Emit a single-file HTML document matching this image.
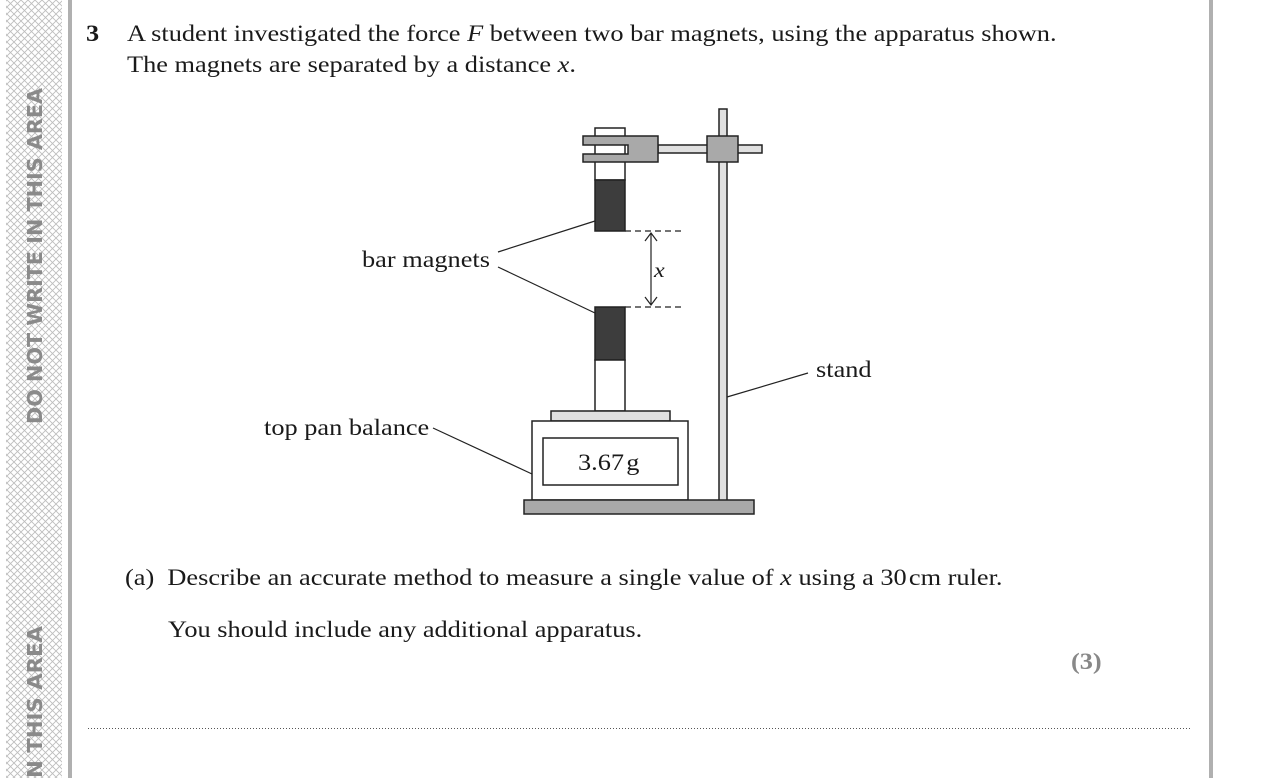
<!DOCTYPE html>
<html><head><meta charset="utf-8"><style>
html,body{margin:0;padding:0;background:#fff;width:1280px;height:778px;overflow:hidden}
.t{position:absolute;font-family:"Liberation Serif",serif;font-size:23px;color:#1a1a1a;white-space:nowrap;transform:scaleX(1.145);transform-origin:0 0}
</style></head><body>
<svg width="1280" height="778" style="position:absolute;left:0;top:0" xmlns="http://www.w3.org/2000/svg">
<defs><pattern id="h" width="7" height="7" patternUnits="userSpaceOnUse">
<path d="M0 0L7 7M7 0L0 7" stroke="#bdbdbd" stroke-width="0.9"/></pattern></defs>
<rect x="6" y="0" width="56" height="778" fill="url(#h)"/>
<rect x="68" y="0" width="4" height="778" fill="#b0b0b0"/>
<rect x="1209" y="0" width="4" height="778" fill="#b0b0b0"/>
<text transform="translate(42,424) rotate(-90)" font-family="DejaVu Sans,sans-serif" font-weight="bold" font-size="20" fill="#8a8a8a" textLength="336" lengthAdjust="spacingAndGlyphs">DO NOT WRITE IN THIS AREA</text>
<text transform="translate(42,778) rotate(-90)" font-family="DejaVu Sans,sans-serif" font-weight="bold" font-size="20" fill="#8a8a8a" textLength="152" lengthAdjust="spacingAndGlyphs">N THIS AREA</text>
<line x1="88" y1="728.5" x2="1190" y2="728.5" stroke="#555" stroke-width="1" stroke-dasharray="1,2"/>
<g stroke="#222" stroke-width="1.5">
<rect x="719" y="109" width="8" height="392" fill="#e0e0e0"/>
<rect x="595" y="128" width="30" height="52" fill="#fff"/>
<rect x="658" y="145" width="104" height="8" fill="#e0e0e0"/>
<path d="M583 136H658V162H583V154H628V145H583Z" fill="#a9a9a9"/>
<rect x="707" y="136" width="31" height="26" fill="#a9a9a9"/>
<rect x="595" y="180" width="30" height="51" fill="#3d3d3d"/>
<rect x="595" y="307" width="30" height="53" fill="#3d3d3d"/>
<rect x="595" y="360" width="30" height="51" fill="#fff"/>
<rect x="551" y="411" width="119" height="10" fill="#e0e0e0"/>
<rect x="532" y="421" width="156" height="79" fill="#fff"/>
<rect x="543" y="438" width="135" height="47" fill="#fff"/>
<rect x="524" y="500" width="230" height="14" fill="#a9a9a9"/>
</g>
<g stroke="#222" stroke-width="1.2" fill="none">
<line x1="625" y1="231" x2="683" y2="231" stroke-dasharray="6,4"/>
<line x1="625" y1="307" x2="683" y2="307" stroke-dasharray="6,4"/>
<line x1="651" y1="233" x2="651" y2="305"/>
<path d="M645 241L651 233L657 241M645 297L651 305L657 297"/>
<line x1="498" y1="252" x2="595" y2="221"/>
<line x1="498" y1="267" x2="595" y2="313"/>
<line x1="727" y1="397" x2="808" y2="373"/>
<line x1="433" y1="428" x2="532" y2="474"/>
</g>
</svg>
<div class="t" style="left:86px;top:21px;font-weight:bold">3</div>
<div class="t" style="left:127px;top:21px">A student investigated the force <i>F</i> between two bar magnets, using the apparatus shown.</div>
<div class="t" style="left:127px;top:52px">The magnets are separated by a distance <i>x</i>.</div>
<div class="t" style="left:654px;top:258px;font-size:21px"><i>x</i></div>
<div class="t" style="left:362px;top:247px">bar magnets</div>
<div class="t" style="left:816px;top:357px">stand</div>
<div class="t" style="left:264px;top:415px">top pan balance</div>
<div class="t" style="left:578px;top:450px">3.67&#8202;g</div>
<div class="t" style="left:125px;top:565px">(a)&nbsp; Describe an accurate method to measure a single value of <i>x</i> using a 30&#8202;cm ruler.</div>
<div class="t" style="left:168px;top:617px">You should include any additional apparatus.</div>
<div class="t" style="left:1071px;top:649px;font-weight:bold;color:#888">(3)</div>
</body></html>
